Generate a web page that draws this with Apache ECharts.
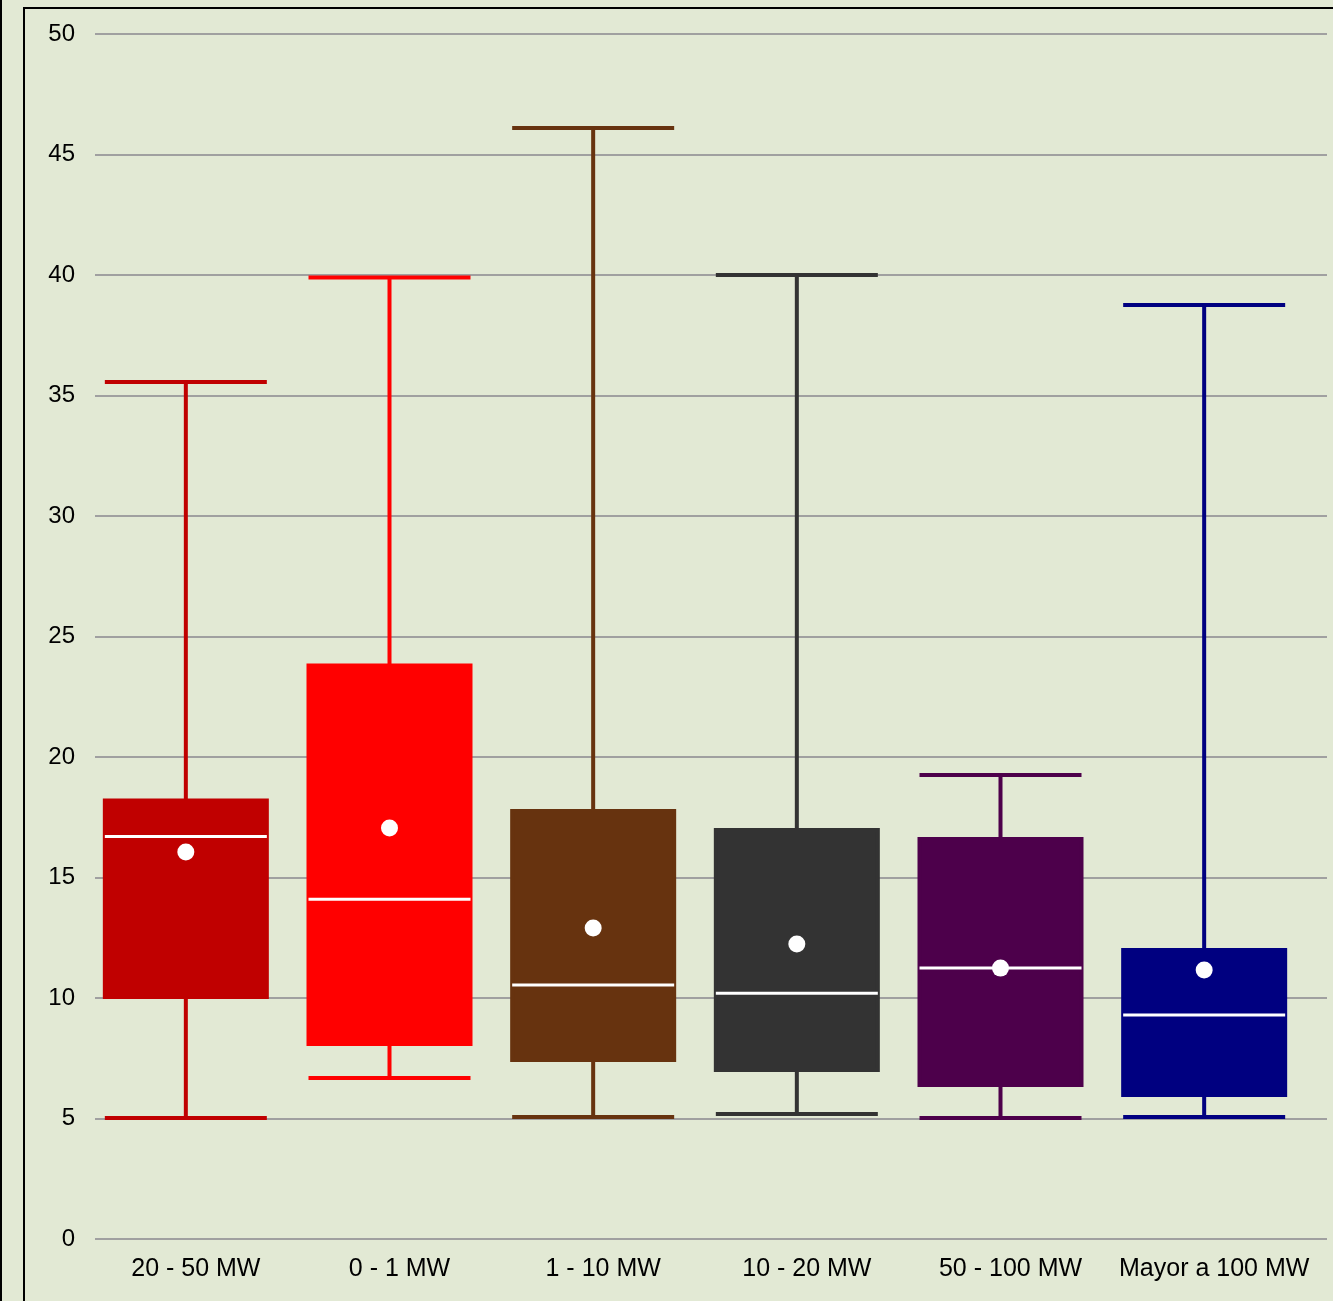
<!DOCTYPE html>
<html>
<head>
<meta charset="utf-8">
<script src="https://cdn.jsdelivr.net/npm/echarts@6/dist/echarts.min.js"></script>
<style>
html, body { margin: 0; padding: 0; background: #E2E9D4; }
#main { width: 1333px; height: 1301px; }
</style>
</head>
<body>
<div id="main"></div>
<script>
var categories = ["20 - 50 MW", "0 - 1 MW", "1 - 10 MW", "10 - 20 MW", "50 - 100 MW", "Mayor a 100 MW"];
// [min, Q1, median, Q3, max]
var boxValues = [
    [5.02, 10.04, 16.7, 18.2, 35.56],
    [6.68, 8.09, 14.1, 23.8, 39.9],
    [5.06, 7.43, 10.54, 17.76, 46.1],
    [5.19, 7.01, 10.2, 16.97, 40.0],
    [5.02, 6.39, 11.24, 16.6, 19.25],
    [5.06, 5.98, 9.29, 11.99, 38.76]
];
var means = [16.06, 17.05, 12.9, 12.24, 11.24, 11.16];
var boxColors = ["#C00000", "#FF0000", "#67330F", "#333333", "#4D004B", "#000080"];

var chart = echarts.init(document.getElementById("main"));

var boxData = boxValues.map(function(v, i) {
    return {
        value: v,
        itemStyle: { color: boxColors[i], borderColor: boxColors[i], borderWidth: 4 }
    };
});
var medianData = boxValues.map(function(v, i) {
    return [i, v[2]];
});
var meanData = means.map(function(m, i) {
    return [i, m];
});

var option = {
    backgroundColor: "#E2E9D4",
    animation: false,
    graphic: [
        {
            type: "rect",
            shape: { x: 24, y: 8, width: 1400, height: 1400 },
            style: { fill: null, stroke: "#000", lineWidth: 2 }
        },
        {
            type: "line",
            shape: { x1: 1, y1: 0, x2: 1, y2: 1301 },
            style: { stroke: "#000", lineWidth: 2 }
        }
    ],
    grid: [
        { left: 95, right: 6, top: 34, bottom: 62 },
        { left: 84, right: 27, top: 34, bottom: 62 }
    ],
    xAxis: [
        {
            type: "category",
            gridIndex: 0,
            data: categories,
            show: false
        },
        {
            type: "category",
            gridIndex: 1,
            data: categories,
            axisLine: { show: false },
            axisTick: { show: false },
            splitLine: { show: false },
            axisLabel: {
                color: "#000",
                fontFamily: "Liberation Sans",
                fontSize: 25,
                margin: 18,
                interval: 0,
                padding: [0, 0, 0, 20]
            }
        }
    ],
    yAxis: [
        {
            type: "value",
            gridIndex: 0,
            min: 0,
            max: 50,
            interval: 5,
            axisLine: { show: false },
            axisTick: { show: false },
            axisLabel: {
                color: "#000",
                fontFamily: "Liberation Sans",
                fontSize: 24,
                margin: 20
            },
            splitLine: { lineStyle: { color: "#A0A0A0", width: 2 } }
        },
        {
            type: "value",
            gridIndex: 1,
            min: 0,
            max: 50,
            interval: 5,
            show: false
        }
    ],
    series: [
        {
            type: "boxplot",
            xAxisIndex: 1,
            yAxisIndex: 1,
            boxWidth: [162, 162],
            data: boxData
        },
        {
            type: "scatter",
            xAxisIndex: 1,
            yAxisIndex: 1,
            symbol: "rect",
            symbolSize: [162, 3],
            itemStyle: { color: "#FFFFFF", opacity: 1 },
            data: medianData,
            z: 5
        },
        {
            type: "scatter",
            xAxisIndex: 1,
            yAxisIndex: 1,
            symbol: "circle",
            symbolSize: 17,
            itemStyle: { color: "#FFFFFF", opacity: 1 },
            data: meanData,
            z: 6
        }
    ]
};
chart.setOption(option);
</script>
</body>
</html>
